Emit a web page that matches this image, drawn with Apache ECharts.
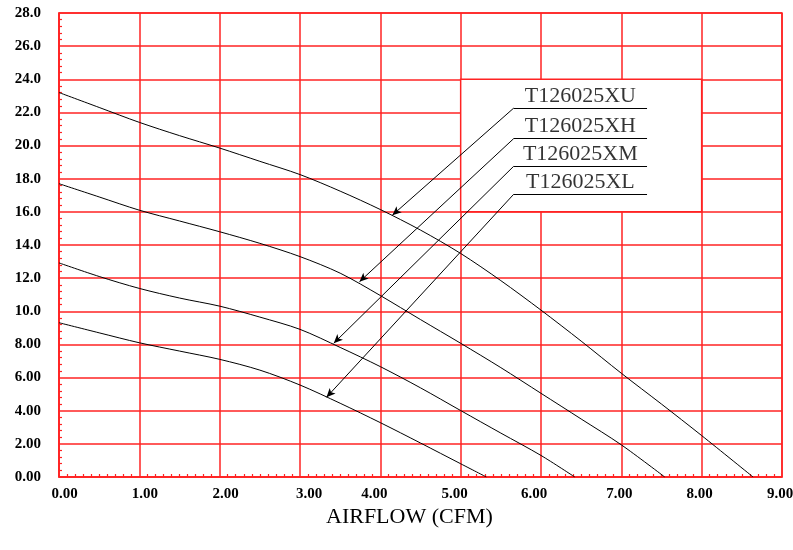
<!DOCTYPE html>
<html>
<head>
<meta charset="utf-8">
<script src="https://cdn.jsdelivr.net/npm/echarts@6/dist/echarts.min.js"></script>
<style>
html,body{margin:0;padding:0;background:#fff;}
#chart{width:793px;height:550px;}
</style>
</head>
<body>
<div id="chart"></div>
<script>
// Airflow (CFM) vs pressure curves
const xu = [[0,23.2],[0.5,22.3],[1,21.4],[1.5,20.6],[2,19.85],[2.5,19.05],[3,18.25],[3.5,17.25],[4,16.14],[4.5,14.9],[5,13.49],[5.5,11.85],[6,10.07],[6.5,8.2],[7,6.26],[7.5,4.4],[8,2.5],[8.64,0]];
const xh = [[0,17.7],[0.5,16.9],[1,16.1],[1.5,15.45],[2,14.8],[2.5,14.1],[3,13.3],[3.5,12.3],[4,10.95],[4.5,9.5],[5,8.07],[5.5,6.6],[6,5.05],[6.5,3.5],[7,1.94],[7.54,0]];
const xm = [[0,12.92],[0.5,12.1],[1,11.38],[1.5,10.8],[2,10.31],[2.5,9.65],[3,8.91],[3.5,7.82],[4,6.66],[4.5,5.38],[5,4.01],[5.5,2.65],[6,1.3],[6.42,0]];
const xl = [[0,9.31],[0.5,8.7],[1,8.1],[1.5,7.6],[2,7.1],[2.5,6.45],[3,5.55],[3.5,4.45],[4,3.28],[4.5,2.05],[5,0.8],[5.32,0]];

const seriesNames = ['T126025XU','T126025XH','T126025XM','T126025XL'];
const seriesData = [xu, xh, xm, xl];

// legend annotation: underline level, leader start x, underline end x, arrow tip
const underlineY = [22.26, 20.42, 18.75, 17.06];
const leaderStartX = 5.66;
const underlineEndX = 7.32;
const labelX = 6.49;
const arrowTips = [[4.15,15.8],[3.74,11.78],[3.42,8.07],[3.33,4.81]];
const legendBox = [[5,16],[8,24]];

const xTicks = {min:0, max:9, interval:1};
const yTicks = {min:0, max:28, interval:2};

const RED = '#ff2323';
const FONT = 'Liberation Serif';

// horizontal nudges of the x tick labels (px), as placed in the original
const xLabelShift = [5.5, 5.5, 6, 9, -6, -6, -7, -2, -2, -2];
const xRich = {};
xLabelShift.forEach((s, i) => {
  xRich['s' + i] = {padding: s >= 0 ? [0, 0, 0, 2 * s] : [0, -2 * s, 0, 0]};
});

const chart = echarts.init(document.getElementById('chart'));

const curveSeries = seriesData.map((d, i) => ({
  name: seriesNames[i], type: 'line', data: d, showSymbol: false, symbol: 'none',
  smooth: 0.3, z: 3,
  lineStyle: {color: '#000', width: 1},
  silent: true
}));

const mlData = [];
seriesNames.forEach((n, i) => {
  mlData.push([{coord:[underlineEndX, underlineY[i]], symbol:'none'}, {coord:[leaderStartX, underlineY[i]], symbol:'none'}]);
  mlData.push([{coord:[leaderStartX, underlineY[i]], symbol:'none'}, {coord:arrowTips[i], symbol:'arrow'}]);
});

const option = {
  animation: false,
  backgroundColor: '#fff',
  title: {
    text: 'AIRFLOW (CFM)', left: 326, top: 506, padding: 0,
    textStyle: {fontFamily: FONT, fontSize: 22, fontWeight: 'normal', color: '#000'}
  },
  grid: {left: 59, right: 11, top: 13, bottom: 73, containLabel: false, outerBoundsMode: 'none',
    show: true, borderColor: RED, borderWidth: 1.5, backgroundColor: '#fff'},
  xAxis: {
    type: 'value', min: xTicks.min, max: xTicks.max, interval: xTicks.interval,
    axisLine: {show: true, lineStyle: {color: RED, width: 1.5}},
    axisTick: {show: false, inside: true},
    minorTick: {show: true, splitNumber: 10, length: 3, lineStyle: {color: RED, width: 1.2}},
    splitLine: {show: true, lineStyle: {color: RED, width: 1.5}},
    axisLabel: {
      formatter: (v, i) => '{s' + Math.round(v) + '|' + v.toFixed(2) + '}', margin: 10,
      rich: xRich,
      fontFamily: FONT, fontSize: 15, fontWeight: 'bold', color: '#000'
    }
  },
  yAxis: {
    type: 'value', min: yTicks.min, max: yTicks.max, interval: yTicks.interval,
    axisLine: {show: true, lineStyle: {color: RED, width: 1.5}},
    axisTick: {show: false, inside: true},
    minorTick: {show: true, splitNumber: 5, length: 3, lineStyle: {color: RED, width: 1.2}},
    splitLine: {show: true, lineStyle: {color: RED, width: 1.5}},
    axisLabel: {
      formatter: v => v >= 10 ? v.toFixed(1) : v.toFixed(2), margin: 18,
      fontFamily: FONT, fontSize: 15, fontWeight: 'bold', color: '#000'
    }
  },
  series: [
    {
      type: 'line', data: [], z: 1, silent: true,
      markArea: {
        silent: true,
        itemStyle: {color: '#fff', borderColor: RED, borderWidth: 1.5},
        data: [[{coord: legendBox[0]}, {coord: legendBox[1]}]]
      }
    },
    ...curveSeries,
    {
      type: 'scatter', z: 5, silent: true, symbolSize: 0,
      data: seriesNames.map((n, i) => ({value: [labelX, underlineY[i]], name: n})),
      label: {
        show: true, position: 'top', distance: 1, formatter: p => p.name,
        fontFamily: FONT, fontSize: 22, color: '#000'
      },
      markLine: {
        silent: true, symbolSize: [6, 9],
        label: {show: false},
        lineStyle: {color: '#000', width: 1, type: 'solid'},
        data: mlData
      }
    }
  ]
};
chart.setOption(option);
</script>
</body>
</html>
